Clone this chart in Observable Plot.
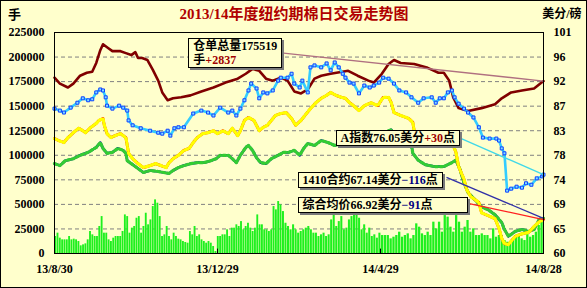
<!DOCTYPE html>
<html><head><meta charset="utf-8">
<script src="https://cdn.jsdelivr.net/npm/d3@7"></script>
<script src="https://cdn.jsdelivr.net/npm/@observablehq/plot@0.6"></script>
<style>
body{margin:0;background:#fff;}
#wrap{position:relative;width:587px;height:288px;}
#wrap svg{display:block;outline:1px solid #000;outline-offset:-1px;}
.note{position:absolute;background:#FFFFCC;border:1px solid #000;box-shadow:2px 2px 0 #7a7a7a;font:bold 12px 'Liberation Serif','Noto Sans CJK SC',serif;line-height:14px;padding:0 4px;white-space:nowrap;color:#000;}
.up{color:#a00000}.dn{color:#000080}
</style></head><body><div id="wrap"></div>
<script>
const title = "2013/14年度纽约期棉日交易走势图";
const leftUnit = "手", rightUnit = "美分/磅";
const leftTicks = [0,25000,50000,75000,100000,125000,150000,175000,200000,225000];
const rightLabels = ["60","65","69","74","78","83","87","92","96","101","105"];
const xTickDays = [0,121,242,363];
const xLabels = ["13/8/30","13/12/29","14/4/29","14/8/28"];

// certificated stock (hands) [day since 13/8/30, value]
const stock = [[0,179000],[4,173000],[10,169000],[14,173000],[19,181000],[24,184000],[28,185000],[31,194000],[34,207000],[36,213000],[40,209000],[43,206000],[49,206000],[53,204000],[57,202000],[60,205000],[62,199000],[65,199000],[69,197000],[73,187000],[77,176000],[80,164000],[84,156000],[88,158000],[94,159000],[101,161000],[109,165000],[118,169000],[127,174000],[136,178000],[142,183000],[147,188000],[152,186000],[157,178000],[162,176000],[168,179000],[173,176000],[178,165000],[183,163000],[188,167000],[193,178000],[198,181000],[205,183000],[218,186000],[225,181000],[233,176000],[237,174000],[243,183000],[248,193000],[252,197000],[257,194000],[267,193000],[277,189000],[285,184000],[289,184000],[293,176000],[296,159000],[300,148000],[307,145000],[317,148000],[327,152000],[332,158000],[339,164000],[347,166000],[356,168000],[363,175519]];

// A index (cents/lb)
const aIndex = [[0,89.5],[4,89.1],[7,88.7],[12,89.7],[17,90.7],[21,91.6],[25,91.2],[28,91.4],[31,92.8],[34,93.4],[36,93.2],[38,91.8],[39,90.1],[43,89.5],[48,90.1],[51,89.7],[54,89.1],[55,87.1],[58,86.1],[64,85.5],[71,85.0],[77,84.6],[80,84.4],[84,85.0],[86,84.0],[89,85.5],[92,85.7],[96,85.7],[103,88.5],[109,89.1],[114,88.7],[118,88.1],[123,89.7],[129,88.7],[132,89.1],[135,88.1],[138,89.5],[141,91.2],[144,93.2],[146,94.6],[150,93.6],[152,91.6],[155,92.8],[158,92.6],[162,93.2],[166,95.2],[168,95.8],[173,95.8],[176,96.6],[178,94.6],[182,93.8],[184,95.2],[188,92.8],[190,97.9],[193,98.3],[198,97.9],[202,98.7],[205,97.3],[208,98.9],[211,97.9],[214,96.6],[216,95.8],[219,94.8],[222,94.6],[226,92.6],[230,94.2],[234,93.8],[237,94.2],[241,94.8],[244,95.8],[248,95.6],[252,94.6],[256,93.2],[261,92.8],[265,91.8],[270,90.7],[274,91.6],[280,91.8],[283,90.7],[286,91.6],[289,91.6],[292,92.8],[295,93.2],[297,91.8],[300,90.5],[304,89.5],[307,88.7],[311,87.7],[315,85.7],[318,83.6],[323,83.4],[328,83.4],[330,83.0],[332,81.4],[334,80.4],[336,72.8],[339,73.2],[343,73.6],[347,73.4],[350,74.3],[354,74.0],[358,75.3],[362,75.7],[363,76.05]];

// composite average price (cents/lb)
const composite = [[0,83.4],[3,83.0],[7,82.6],[10,83.6],[14,84.6],[18,85.5],[21,85.0],[23,84.6],[27,85.7],[31,86.5],[33,87.1],[36,87.5],[37,86.1],[39,84.4],[42,83.6],[45,84.0],[49,84.4],[53,83.6],[54,82.0],[55,80.4],[58,79.3],[62,78.3],[66,77.5],[71,77.9],[75,78.3],[79,77.9],[83,77.5],[85,78.5],[88,79.3],[92,80.0],[96,81.0],[100,81.4],[103,82.6],[106,83.6],[110,84.4],[114,84.6],[118,85.0],[121,84.4],[125,85.0],[129,84.4],[132,85.5],[136,84.0],[138,85.0],[141,87.1],[144,87.7],[148,87.1],[152,85.0],[155,85.7],[158,86.1],[161,87.1],[164,88.1],[168,88.5],[172,88.7],[176,87.5],[179,86.1],[183,87.1],[187,88.5],[190,89.5],[194,90.7],[198,91.6],[202,92.2],[205,92.8],[209,92.2],[213,91.8],[216,91.6],[219,90.7],[222,90.1],[226,89.1],[230,90.1],[235,90.7],[240,90.1],[244,91.8],[248,91.8],[250,90.7],[252,88.7],[257,88.1],[263,87.5],[266,86.7],[267,85.0],[272,84.2],[280,83.8],[287,83.2],[293,82.6],[296,82.0],[298,80.6],[300,77.7],[304,75.1],[306,73.0],[309,71.6],[315,70.4],[317,68.3],[322,67.7],[327,67.1],[330,65.1],[332,63.1],[334,62.0],[337,61.8],[339,62.5],[342,63.5],[347,64.0],[352,64.3],[356,65.5],[360,66.5],[363,66.92]];

// 1410 contract (cents/lb)
const c1410 = [[0,78.3],[4,77.9],[8,78.9],[14,79.3],[19,80.0],[25,80.6],[31,81.6],[34,82.6],[36,81.4],[39,80.4],[43,80.6],[47,81.4],[51,81.0],[53,80.4],[54,78.9],[57,78.3],[62,77.3],[66,76.5],[71,76.9],[77,76.7],[81,76.5],[85,76.3],[88,76.9],[92,77.5],[96,77.9],[101,78.3],[106,78.5],[111,78.5],[116,78.9],[120,79.3],[123,80.0],[129,80.0],[132,79.3],[135,78.5],[138,80.0],[142,81.6],[144,82.0],[147,81.0],[150,79.5],[153,78.5],[157,78.3],[161,79.3],[166,80.0],[170,80.6],[174,80.6],[178,81.0],[182,80.0],[185,81.4],[188,82.4],[193,82.0],[198,83.0],[203,82.6],[208,82.0],[213,82.4],[218,83.0],[223,82.6],[228,83.0],[234,83.4],[240,83.6],[248,85.0],[250,85.2],[254,83.4],[260,82.4],[265,82.0],[266,80.4],[270,79.0],[275,78.1],[282,77.7],[289,77.7],[295,78.5],[298,79.0],[301,77.1],[304,74.4],[307,72.4],[312,71.0],[317,69.5],[322,68.9],[327,67.9],[332,66.3],[334,64.9],[337,63.5],[342,64.5],[347,64.9],[352,64.5],[356,64.9],[360,67.0],[363,67.14]];

// daily volume (hands), three stretches of trading days
const volA = [17300,20700,15600,13900,13900,13900,17300,13900,14600,13900,12200,7800,8800,9800,13900,22400,19000,17300,17300,27500,37600,20700,20700,13900,12200,15600,17300,17300,17300,22400,39300,37600,20700,25800,27500,35900,37600,20700,27500,41000,29200,34200,47800,54600,51200,37600,17300,19000,27500,17300,13900,20700,17300,14600,13900,12200,11200,10500,22400,19000,27500,17300,19000,13900,12200,10500,12200,10500,7100,2000,17300,17300,19000,19000,24100,17300,25800,25800,29200,27500,32500,24100,27500,30800,25800,22400,25800,39300,29200,29200,24100,24100,22400,24100,47800,44400,52900,49500];
const volB = [42700,30800,27500,24100,29200,24100,20700,22400,24100,25800,27500,24100,20700,20700,17300,19000,20700,17300,19000,34200,39300,27500,32500,37600,24100,25800,34200,37600,39300,41000,35900,24100,29200,20700,25800,17300,19000,15600,20700];
const volC = [18300,18300,18300,14900,16600,18300,21700,16600,18300,20000,14900,18300,30200,26800,20000,18300,21700,18300,31900,25100,31900,21700,38600,37000,26800,21700,38600,31900,21700,26800,33600,21700,25100,18300,18300,20000,18300,18300,14900,25100,16600,18300,18300,13200,11500,9800,14900,16600,18300,14900,13200,20000,16600,18300,21700,28500,31900];

// latest readings
const stockTotal = 175519, stockChg = "+2837";
const aLast = "76.05", aChg = "+30";
const f1410Last = "67.14", f1410Chg = "−116";
const compLast = "66.92", compChg = "−91";

const toLeft = p => (p - 60) / 45 * 225000;
const segs = [[volA, 0, 169], [volB, 169, 242.5], [volC, 242.5, 363]];
const bars = segs.flatMap(([arr, d0, d1]) => {
  const step = (d1 - d0) / arr.length;
  return arr.map((v, i) => ({day: d0 + (i + 0.5) * step, half: step * 0.4, v}));
});
const X = d => d[0], YL = d => d[1], YR = d => toLeft(d[1]);

const links = [
  {x1: 166.6, y1: 204600, x2: 363, y2: stockTotal, c: "#b07080"},
  {x1: 302, y1: toLeft(83.4), x2: 363, y2: toLeft(+aLast), c: "#40d8e8"},
  {x1: 291, y1: toLeft(75.5), x2: 363, y2: toLeft(+f1410Last), c: "#3030a8"},
  {x1: 307, y1: toLeft(70.2), x2: 363, y2: toLeft(+compLast), c: "#ff2020"}
];

const font = "'Liberation Serif','Noto Sans CJK SC',serif";
const plot = Plot.plot({
  width: 587, height: 288,
  marginLeft: 54, marginRight: 44, marginTop: 32, marginBottom: 35,
  x: {domain: [0, 363], axis: null},
  y: {domain: [0, 225000], axis: null},
  style: {background: "#FFFFCC", fontFamily: font, fontSize: "12px", fontWeight: "bold", color: "#000"},
  marks: [
    Plot.gridY(leftTicks.slice(1, -1), {stroke: "#808080", strokeOpacity: 1, strokeDasharray: "4,3"}),
    Plot.rectY(bars, {x1: d => d.day - d.half, x2: d => d.day + d.half, y: "v", fill: "#1ef01e"}),
    Plot.line(stock, {x: X, y: YL, stroke: "#800000", strokeWidth: 2.6}),
    Plot.line(aIndex, {x: X, y: YR, stroke: "#33ccff", strokeWidth: 2.6}),
    Plot.dot(aIndex, {x: X, y: YR, symbol: "square", r: 1.7, stroke: "#1040ff", strokeWidth: 1, fill: "#80e0ff"}),
    Plot.line(c1410, {x: X, y: YR, stroke: "#0000b0", strokeWidth: 2.6}),
    Plot.line(c1410, {x: X, y: YR, stroke: "#33cc33", strokeWidth: 3.2, strokeDasharray: "2.5,2.5"}),
    Plot.line(composite, {x: X, y: YR, stroke: "#ff0000", strokeWidth: 2.8}),
    Plot.line(composite, {x: X, y: YR, stroke: "#ffff00", strokeWidth: 3.2, strokeDasharray: "2.5,2.3"}),
    Plot.link(links, {x1: "x1", y1: "y1", x2: "x2", y2: "y2", stroke: "c", strokeWidth: 1.3}),
    Plot.frame({stroke: "#000"}),
    Plot.ruleX(xTickDays.slice(1, -1), {y1: 0, y2: 4500, stroke: "#000"}),
    Plot.axisY(leftTicks, {anchor: "left", tickSize: 0, tickPadding: 10, tickFormat: d => String(d)}),
    Plot.axisY(leftTicks, {anchor: "right", tickSize: 0, tickPadding: 10, tickFormat: d => rightLabels[Math.round(d / 25000)]}),
    Plot.axisX(xTickDays, {anchor: "bottom", tickSize: 0, tickPadding: 11, tickFormat: d => xLabels[xTickDays.indexOf(d)]}),
    Plot.text([title], {frameAnchor: "top", dx: -5, dy: -18, lineAnchor: "middle", fill: "#b00000", fontSize: 15, fontWeight: "bold"}),
    Plot.text([leftUnit], {frameAnchor: "top-left", dx: -40, dy: -18, textAnchor: "middle", lineAnchor: "middle", fontSize: 13}),
    Plot.text([rightUnit], {frameAnchor: "top-right", dx: 38, dy: -18, textAnchor: "end", lineAnchor: "middle", fontSize: 12})
  ]
});
const wrap = document.getElementById("wrap");
wrap.appendChild(plot);

const sx = plot.scale("x"), sy = plot.scale("y");
const notes = [
  {day: 99.7, val: 218900, html: `仓单总量${stockTotal}<br>手<span class="up">${stockChg}</span>`},
  {day: 209, val: toLeft(85.04), html: `A指数${aLast}美分<span class="up">${aChg}</span>点`},
  {day: 180.8, val: toLeft(76.5), html: `1410合约${f1410Last}美分<span class="dn">${f1410Chg}</span>点`},
  {day: 180.8, val: toLeft(71.4), html: `综合均价${compLast}美分<span class="dn">${compChg}</span>点`, minW: 160}
];
for (const n of notes) {
  const div = document.createElement("div");
  div.className = "note";
  div.innerHTML = n.html;
  div.style.left = sx.apply(n.day) + "px";
  div.style.top = sy.apply(n.val) + "px";
  if (n.minW) div.style.minWidth = n.minW + "px";
  wrap.appendChild(div);
}
</script></body></html>
